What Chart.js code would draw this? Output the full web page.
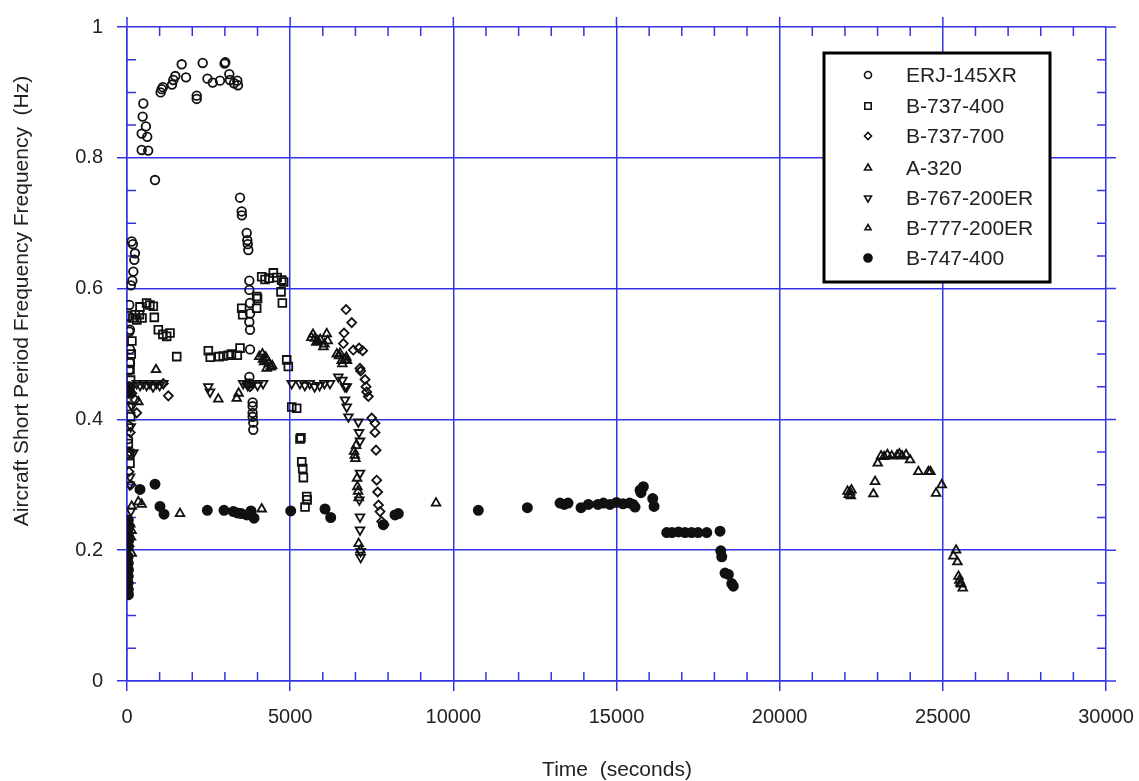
<!DOCTYPE html>
<html>
<head>
<meta charset="utf-8">
<script src="https://cdn.jsdelivr.net/npm/chart.js@4.4.0/dist/chart.umd.min.js"></script>
<style>
  html, body { margin: 0; padding: 0; background: #fff; }
  #wrap { width: 1139px; height: 781px; }
</style>
</head>
<body>
<div id="wrap"><canvas id="chart" width="1139" height="781"></canvas></div>
<script>
// Podatki: cas (s) in frekvenca (Hz) po letalih
const seriesNames = ["ERJ-145XR", "B-737-400", "B-737-700", "A-320", "B-767-200ER", "B-777-200ER", "B-747-400"];

const erjX = [144, 180, 245, 224, 194, 163, 120, 70, 60, 90, 70, 90, 92, 60, 80, 50, 40, 30,
  450, 650, 450, 620, 580, 480, 500, 858, 1063, 1100, 1030, 1380, 1420, 1480, 1676, 1808, 2136, 2136,
  2320, 2465, 2626, 2850, 3013, 2990, 3135, 3157, 3280, 3380, 3400, 3463, 3515, 3520,
  3668, 3687, 3700, 3718, 3749, 3749, 3770, 3770, 3749, 3770, 3770, 3750, 3760, 3850, 3850, 3850, 3850, 3870, 3870];
const erjY = [0.672, 0.668, 0.654, 0.644, 0.626, 0.612, 0.605, 0.575, 0.558, 0.537, 0.534, 0.507, 0.486, 0.475, 0.45, 0.42, 0.39, 0.37,
  0.812, 0.811, 0.837, 0.832, 0.848, 0.863, 0.883, 0.766, 0.905, 0.908, 0.900, 0.912, 0.919, 0.925, 0.943, 0.923, 0.895, 0.890,
  0.945, 0.921, 0.915, 0.918, 0.946, 0.944, 0.928, 0.919, 0.914, 0.918, 0.911, 0.739, 0.718, 0.712,
  0.685, 0.674, 0.668, 0.659, 0.612, 0.598, 0.578, 0.562, 0.549, 0.537, 0.507, 0.465, 0.455, 0.426, 0.420, 0.410, 0.404, 0.395, 0.384];

const b734X = [60, 40, 80, 92, 113, 92, 110, 92, 92, 130, 150, 180, 250, 300, 380, 460, 398, 600, 700, 807, 837, 960, 1100, 1216, 1318, 1523,
  2492, 2550, 2820, 2950, 3105, 3200, 3380, 3463, 3515, 3545, 3974, 3974, 4000, 4128, 4230, 4350, 4484, 4600, 4740, 4800, 4720, 4760,
  4894, 4944, 5047, 5200, 5302, 5330, 5354, 5385, 5404, 5507, 5520, 5455];
const b734Y = [0.345, 0.363, 0.348, 0.333, 0.404, 0.445, 0.46, 0.476, 0.488, 0.50, 0.52, 0.555, 0.56, 0.552, 0.56, 0.555, 0.572, 0.578, 0.575, 0.573, 0.556, 0.537, 0.53, 0.527, 0.532, 0.496,
  0.505, 0.495, 0.496, 0.497, 0.498, 0.50, 0.498, 0.509, 0.570, 0.560, 0.588, 0.570, 0.585, 0.618, 0.614, 0.616, 0.624, 0.617, 0.613, 0.610, 0.595, 0.578,
  0.491, 0.481, 0.419, 0.417, 0.370, 0.372, 0.335, 0.325, 0.311, 0.282, 0.277, 0.266];

const b737X = [297, 250, 150, 100, 80, 60, 120, 1113, 1266, 3668, 3770, 6712, 6886, 6650, 6630, 6935, 7110, 7222, 7140, 7160,
  7294, 7325, 7345, 7396, 7498, 7600, 7600, 7631, 7652, 7682, 7705, 7754, 7805, 7876];
const b737Y = [0.41, 0.43, 0.44, 0.38, 0.35, 0.32, 0.30, 0.455, 0.436, 0.455, 0.45, 0.568, 0.548, 0.532, 0.516, 0.506, 0.509, 0.505, 0.478, 0.474,
  0.461, 0.45, 0.442, 0.435, 0.402, 0.394, 0.38, 0.353, 0.307, 0.289, 0.269, 0.259, 0.244, 0.239];

const a320X = [889, 347, 347, 450, 144, 1624, 2798, 3362, 3420, 4128, 9470, 100, 140, 120, 60, 144,
  4055, 4150, 4170, 4200, 4250, 4300, 4350, 4400, 4450, 4280,
  5650, 5700, 5762, 5800, 5850, 5920, 6020, 6050, 6120, 6150,
  6430, 6500, 6528, 6580, 6680, 6720, 6740, 6600,
  6957, 6980, 7000, 7020, 7060, 7080, 7100, 7050, 7150, 7100];
const a320Y = [0.476, 0.427, 0.274, 0.27, 0.267, 0.256, 0.431, 0.432, 0.44, 0.263, 0.272, 0.24, 0.23, 0.22, 0.21, 0.195,
  0.496, 0.50, 0.492, 0.488, 0.495, 0.49, 0.485, 0.48, 0.482, 0.478,
  0.525, 0.53, 0.524, 0.518, 0.52, 0.522, 0.511, 0.515, 0.531, 0.52,
  0.50, 0.497, 0.501, 0.49, 0.491, 0.495, 0.49, 0.485,
  0.351, 0.345, 0.34, 0.36, 0.297, 0.29, 0.28, 0.31, 0.20, 0.21];

const b767X = [297, 400, 500, 600, 700, 800, 900, 1000, 1113, 2492, 2544, 3560, 3700, 3850, 4000, 4170,
  5047, 5300, 5450, 5600, 5750, 5900, 6050, 6220, 6476, 6600, 6680, 6733, 6680, 6733, 6785,
  7090, 7110, 7140, 7140, 7120, 7140, 7140, 7160, 7160, 92, 194, 113, 150, 80, 120, 60];
const b767Y = [0.455, 0.452, 0.455, 0.452, 0.455, 0.45, 0.455, 0.452, 0.455, 0.45, 0.442, 0.455, 0.452, 0.455, 0.452, 0.455,
  0.455, 0.455, 0.452, 0.455, 0.45, 0.452, 0.455, 0.455, 0.465, 0.46, 0.45, 0.45, 0.43, 0.419, 0.404,
  0.396, 0.38, 0.367, 0.318, 0.277, 0.251, 0.231, 0.198, 0.189, 0.312, 0.349, 0.389, 0.42, 0.30, 0.26, 0.235];

const b777X = [22080, 22120, 22157, 22200, 22180, 22872, 22923, 23005, 23107, 23200, 23301, 23434, 23600, 23668, 23750, 23873, 23996,
  24251, 24557, 24620, 24792, 24967, 25406, 25324, 25446, 25480, 25508, 25540, 25560, 25610];
const b777Y = [0.29, 0.285, 0.289, 0.292, 0.283, 0.286, 0.305, 0.333, 0.344, 0.343, 0.346, 0.344, 0.345, 0.347, 0.344, 0.346, 0.338,
  0.32, 0.32, 0.32, 0.287, 0.30, 0.20, 0.191, 0.182, 0.16, 0.154, 0.15, 0.148, 0.142];

const b747X = [40, 45, 40, 50, 40, 35, 40, 45, 40, 35, 40, 45, 50, 60,
  398, 858, 1011, 1134, 2461, 2973, 3258, 3380, 3500, 3668, 3800, 3892, 5017, 6068, 6242, 7855, 8213, 8315,
  10766, 12268, 13270, 13400, 13515, 13914, 14138, 14430, 14600, 14800, 15000, 15200, 15400, 15507, 15568,
  15722, 15823, 15750, 16110, 16151, 16540, 16700, 16900, 17100, 17300, 17500, 17766, 18173, 18195, 18225,
  18326, 18428, 18532, 18580];
const b747Y = [0.246, 0.235, 0.225, 0.215, 0.205, 0.19, 0.18, 0.17, 0.16, 0.15, 0.14, 0.132, 0.45, 0.44,
  0.293, 0.301, 0.267, 0.255, 0.261, 0.261, 0.259, 0.257, 0.256, 0.254, 0.26, 0.249, 0.26, 0.263, 0.25, 0.239, 0.254, 0.256,
  0.261, 0.265, 0.272, 0.27, 0.272, 0.265, 0.27, 0.27, 0.272, 0.27, 0.273, 0.271, 0.272, 0.27, 0.266,
  0.292, 0.297, 0.288, 0.279, 0.267, 0.227, 0.227, 0.228, 0.227, 0.227, 0.227, 0.227, 0.229, 0.199, 0.19,
  0.165, 0.163, 0.149, 0.145];

const yTickLabels = ["0", "0.2", "0.4", "0.6", "0.8", "1"];

const gridColor = "#3434e4";
const inkColor = "#111";
const fontFamily = "'Liberation Sans', Arial, sans-serif";

function pts(xs, ys) {
  return xs.map((x, i) => ({ x: x, y: ys[i] }));
}

// oblika znack
const markers = [
  { style: "circle", radius: 4.3, rotation: 0, fill: false, legendR: 3.5 },
  { style: "rect", radius: 5.5, rotation: 0, fill: false, legendR: 4.5 },
  { style: "rectRot", radius: 4.5, rotation: 0, fill: false, legendR: 3.5 },
  { style: "triangle", radius: 5, rotation: 0, fill: false, legendR: 4 },
  { style: "triangle", radius: 5, rotation: 180, fill: false, legendR: 4 },
  { style: "triangle", radius: 5, rotation: 0, fill: false, legendR: 3.5 },
  { style: "circle", radius: 4.6, rotation: 0, fill: true, legendR: 4 }
];

const allData = [pts(erjX, erjY), pts(b734X, b734Y), pts(b737X, b737Y), pts(a320X, a320Y),
  pts(b767X, b767Y), pts(b777X, b777Y), pts(b747X, b747Y)];

const datasets = seriesNames.map((name, i) => ({
  label: name,
  data: allData[i],
  pointStyle: markers[i].style,
  pointRadius: markers[i].radius,
  pointRotation: markers[i].rotation,
  borderColor: inkColor,
  backgroundColor: markers[i].fill ? inkColor : "rgba(0,0,0,0)",
  borderWidth: 1.8,
  showLine: false
}));

// dodatki: male crtice, legenda, naslovi osi
const extras = {
  id: "extras",
  beforeDatasetsDraw(chart) {
    const { ctx, chartArea: a, scales: { x, y } } = chart;
    ctx.save();
    ctx.strokeStyle = gridColor;
    ctx.lineWidth = 1.5;
    ctx.beginPath();
    for (let v = 1000; v < 30000; v += 1000) {
      const px = x.getPixelForValue(v);
      if (v % 5000 === 0) {
        ctx.moveTo(px, a.top); ctx.lineTo(px, a.top - 10);
        continue;
      }
      ctx.moveTo(px, a.bottom); ctx.lineTo(px, a.bottom - 9);
      ctx.moveTo(px, a.top); ctx.lineTo(px, a.top + 9);
    }
    for (let i = 1; i < 20; i++) {
      const py = y.getPixelForValue(i * 0.05);
      if (i % 4 === 0) {
        ctx.moveTo(a.right, py); ctx.lineTo(a.right + 10, py);
        continue;
      }
      ctx.moveTo(a.left, py); ctx.lineTo(a.left + 9, py);
      ctx.moveTo(a.right, py); ctx.lineTo(a.right - 9, py);
    }
    ctx.moveTo(a.left, a.top); ctx.lineTo(a.left, a.top - 10);
    ctx.moveTo(a.right, a.top); ctx.lineTo(a.right + 10, a.top);
    ctx.moveTo(a.right, a.bottom); ctx.lineTo(a.right + 10, a.bottom);
    ctx.stroke();
    ctx.restore();
  },
  afterDraw(chart) {
    const ctx = chart.ctx;
    ctx.save();
    // legenda
    ctx.fillStyle = "#fff";
    ctx.fillRect(824, 53, 226, 229);
    ctx.strokeStyle = "#000";
    ctx.lineWidth = 3;
    ctx.strokeRect(824, 53, 226, 229);
    const rowY = [75, 106, 136, 168, 198, 228, 258];
    ctx.font = "21px " + fontFamily;
    ctx.textBaseline = "middle";
    ctx.textAlign = "left";
    seriesNames.forEach((name, i) => {
      const m = markers[i];
      ctx.strokeStyle = inkColor;
      ctx.fillStyle = m.fill ? inkColor : "rgba(0,0,0,0)";
      ctx.lineWidth = 1.6;
      Chart.helpers.drawPoint(ctx, { pointStyle: m.style, radius: m.legendR, rotation: m.rotation, borderWidth: 1.6 }, 868, rowY[i]);
      ctx.fillStyle = "#222";
      ctx.fillText(name, 906, rowY[i] + 1);
    });
    // naslovi osi
    ctx.fillStyle = "#222";
    ctx.font = "21px " + fontFamily;
    ctx.textAlign = "center";
    ctx.fillText("Time  (seconds)", 617, 770);
    ctx.translate(22, 301);
    ctx.rotate(-Math.PI / 2);
    ctx.fillText("Aircraft Short Period Frequency Frequency  (Hz)", 0, 0);
    ctx.restore();
  }
};

new Chart(document.getElementById("chart"), {
  type: "scatter",
  data: { datasets: datasets },
  plugins: [extras],
  options: {
    responsive: false,
    animation: false,
    layout: { padding: { left: 0, right: 33, top: 27, bottom: 0 } },
    plugins: { legend: { display: false }, tooltip: { enabled: false } },
    scales: {
      x: {
        type: "linear",
        min: 0,
        max: 30000,
        afterFit: (s) => { s.height = 100; s.paddingLeft = 0; s.paddingRight = 0; },
        border: { color: gridColor, width: 1.5 },
        grid: { color: gridColor, lineWidth: 1.5, tickLength: 10, tickColor: gridColor },
        ticks: {
          stepSize: 5000,
          color: "#222",
          padding: 14,
          maxRotation: 0,
          font: { family: fontFamily, size: 20 },
          callback: (v) => String(v)
        }
      },
      y: {
        type: "linear",
        min: 0,
        max: 1,
        afterFit: (s) => { s.width = 127; s.paddingTop = 0; s.paddingBottom = 0; },
        border: { color: gridColor, width: 1.5 },
        grid: { color: gridColor, lineWidth: 1.5, tickLength: 10, tickColor: gridColor },
        ticks: {
          stepSize: 0.2,
          color: "#222",
          padding: 14,
          font: { family: fontFamily, size: 20 },
          callback: (v, i) => yTickLabels[i]
        }
      }
    }
  }
});
</script>
</body>
</html>
